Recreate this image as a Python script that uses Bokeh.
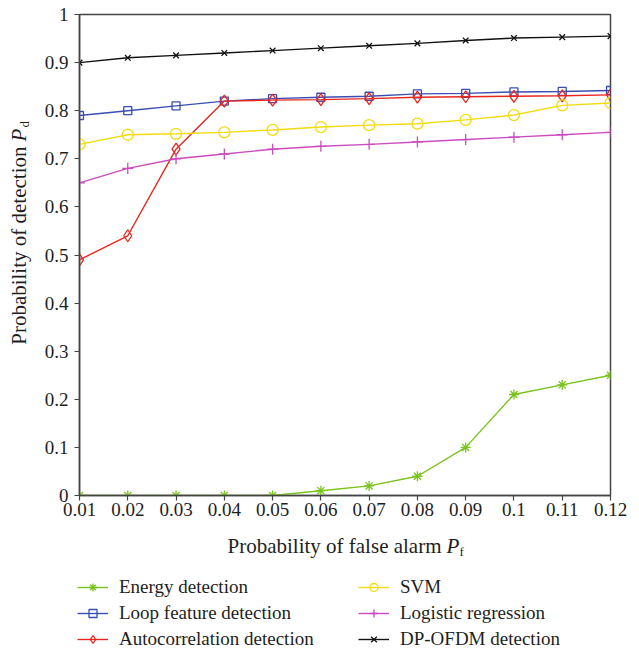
from bokeh.plotting import figure
from bokeh.layouts import column, row
from bokeh.models import Legend, LegendItem, FixedTicker, NumeralTickFormatter, Label
from bokeh.embed import file_html
from bokeh.resources import INLINE
import math

# ---------------- data ----------------
pf = [0.01, 0.02, 0.03, 0.04, 0.05, 0.06, 0.07, 0.08, 0.09, 0.10, 0.11, 0.12]
energy = [0, 0, 0, 0, 0, 0.01, 0.02, 0.04, 0.10, 0.21, 0.23, 0.25]
loop = [0.79, 0.80, 0.81, 0.82, 0.825, 0.828, 0.83, 0.835, 0.836, 0.839, 0.84, 0.842]
autocorr = [0.49, 0.54, 0.72, 0.82, 0.822, 0.823, 0.825, 0.828, 0.829, 0.830, 0.831, 0.833]
svm = [0.73, 0.75, 0.752, 0.755, 0.76, 0.766, 0.77, 0.773, 0.781, 0.791, 0.811, 0.816]
logistic = [0.65, 0.68, 0.70, 0.71, 0.72, 0.726, 0.73, 0.735, 0.74, 0.745, 0.75, 0.755]
dpofdm = [0.90, 0.91, 0.915, 0.92, 0.925, 0.93, 0.935, 0.94, 0.946, 0.951, 0.953, 0.955]

series_names = ["Energy detection", "Loop feature detection", "Autocorrelation detection",
                "SVM", "Logistic regression", "DP-OFDM detection"]

x_ticks = [0.01, 0.02, 0.03, 0.04, 0.05, 0.06, 0.07, 0.08, 0.09, 0.1, 0.11, 0.12]
x_tick_labels = ["0.01", "0.02", "0.03", "0.04", "0.05", "0.06", "0.07", "0.08", "0.09", "0.1", "0.11", "0.12"]
y_ticks = [0, 0.1, 0.2, 0.3, 0.4, 0.5, 0.6, 0.7, 0.8, 0.9, 1]
y_tick_labels = ["0", "0.1", "0.2", "0.3", "0.4", "0.5", "0.6", "0.7", "0.8", "0.9", "1"]

x_title = "Probability of false alarm"
y_title = "Probability of detection"
x_sym, x_sub = "P", "f"
y_sym, y_sub = "P", "d"

# ---------------- styles ----------------
FONT = "Liberation Serif"
TXT = "#1e1e1e"
AX = "#444444"
styles = [
    dict(color="#79c31c", marker="asterisk", size=10),
    dict(color="#3b4db3", marker="square", size=8),
    dict(color="#e8261e", marker="diamond", size=12),
    dict(color="#f0dc10", marker="circle", size=11),
    dict(color="#cc4cbf", marker="cross", size=11),
    dict(color="#111111", marker="x", size=8),
]
data = [energy, loop, autocorr, svm, logistic, dpofdm]

W_LEFT = 36
MAIN_H = 529
BOT_H = 650 - MAIN_H
TOP_B = 14
BOT_B = 34
FRAME_BOTTOM = MAIN_H - BOT_B   # canvas y of the frame bottom (495)

# ---------------- main plot ----------------
p = figure(width=639 - W_LEFT, height=MAIN_H, output_backend="svg", toolbar_location=None,
           x_range=(0.01, 0.12), y_range=(0, 1),
           min_border_left=79 - W_LEFT, min_border_right=29,
           min_border_top=TOP_B, min_border_bottom=BOT_B)
p.background_fill_color = "white"
p.border_fill_color = "white"
p.grid.visible = False
p.outline_line_color = AX
p.outline_line_width = 1.5

for ax in (p.xaxis[0], p.yaxis[0]):
    ax.axis_line_color = AX
    ax.axis_line_width = 1.5
    ax.major_tick_line_color = AX
    ax.major_tick_line_width = 1.2
    ax.major_tick_out = 5
    ax.major_tick_in = 0
    ax.minor_tick_line_color = None
    ax.major_label_text_font = FONT
    ax.major_label_text_font_size = "19px"
    ax.major_label_text_color = TXT
    ax.formatter = NumeralTickFormatter(format="0.[00]")
p.xaxis[0].major_label_standoff = 2
p.yaxis[0].major_label_standoff = 6

p.xaxis[0].ticker = FixedTicker(ticks=x_ticks)
p.yaxis[0].ticker = FixedTicker(ticks=y_ticks)
p.xaxis[0].major_label_overrides = {t: l for t, l in zip(x_ticks, x_tick_labels)}
p.yaxis[0].major_label_overrides = {t: l for t, l in zip(y_ticks, y_tick_labels)}

for name, ys, st in zip(series_names, data, styles):
    p.line(pf, ys, line_color=st["color"], line_width=1.4)
    p.scatter(pf, ys, marker=st["marker"], size=st["size"], line_color=st["color"],
              fill_color=None, line_width=1.3)

# ---------------- left strip: y title (screen units, y measured up from frame bottom) ----------------
yl = figure(width=W_LEFT, height=MAIN_H, output_backend="svg", toolbar_location=None,
            x_range=(0, 1), y_range=(0, 1), x_axis_type=None, y_axis_type=None,
            min_border_left=0, min_border_right=0, min_border_top=TOP_B, min_border_bottom=BOT_B)
yl.outline_line_color = None
yl.grid.visible = False
yl.add_layout(Label(x=18, y=FRAME_BOTTOM - 146, x_units="screen", y_units="screen", text=y_title,
                    angle=math.pi / 2,
                    text_font=FONT, text_font_size="21px", text_color=TXT,
                    text_align="right", text_baseline="middle"))
yl.add_layout(Label(x=18, y=FRAME_BOTTOM - 141, x_units="screen", y_units="screen", text=y_sym,
                    angle=math.pi / 2,
                    text_font=FONT, text_font_style="italic", text_font_size="21px", text_color=TXT,
                    text_align="left", text_baseline="middle"))
yl.add_layout(Label(x=24, y=FRAME_BOTTOM - 127, x_units="screen", y_units="screen", text=y_sub,
                    angle=math.pi / 2,
                    text_font=FONT, text_font_size="13px", text_color=TXT,
                    text_align="left", text_baseline="middle"))

# ---------------- bottom strip: x title + legend ----------------
# data ranges chosen so that the legend's carrier renderers lie outside the view
bt = figure(width=639, height=BOT_H, output_backend="svg", toolbar_location=None,
            x_range=(10, 11), y_range=(10, 11), x_axis_type=None, y_axis_type=None,
            min_border=0)
bt.outline_line_color = None
bt.grid.visible = False
y_xt = BOT_H - (545 - MAIN_H)
bt.add_layout(Label(x=441, y=y_xt, x_units="screen", y_units="screen", text=x_title,
                    text_font=FONT, text_font_size="21px", text_color=TXT,
                    text_align="right", text_baseline="middle"))
bt.add_layout(Label(x=446, y=y_xt, x_units="screen", y_units="screen", text=x_sym,
                    text_font=FONT, text_font_style="italic", text_font_size="21px", text_color=TXT,
                    text_align="left", text_baseline="middle"))
bt.add_layout(Label(x=459, y=y_xt - 6, x_units="screen", y_units="screen", text=x_sub,
                    text_font=FONT, text_font_size="13px", text_color=TXT,
                    text_align="left", text_baseline="middle"))

items = []
for name, ys, st in zip(series_names, data, styles):
    lr = bt.line(pf, ys, line_color=st["color"], line_width=1.4)
    sr = bt.scatter(pf, ys, marker=st["marker"], size=st["size"], line_color=st["color"],
                    fill_color=None, line_width=1.3)
    items.append(LegendItem(label=name, renderers=[lr, sr]))


def make_legend(its, loc):
    return Legend(items=its, location=loc, orientation="vertical",
                  padding=0, margin=0, spacing=4, label_height=22, glyph_height=20,
                  glyph_width=31, label_standoff=11,
                  label_text_font=FONT, label_text_font_size="19px", label_text_color=TXT,
                  border_line_color=None, background_fill_alpha=0)


bt.add_layout(make_legend(items[:3], (77, 0)))
bt.add_layout(make_legend(items[3:], (358, 0)))

layout = column(row(yl, p), bt)
open("out.html", "w").write(file_html(layout, INLINE))
